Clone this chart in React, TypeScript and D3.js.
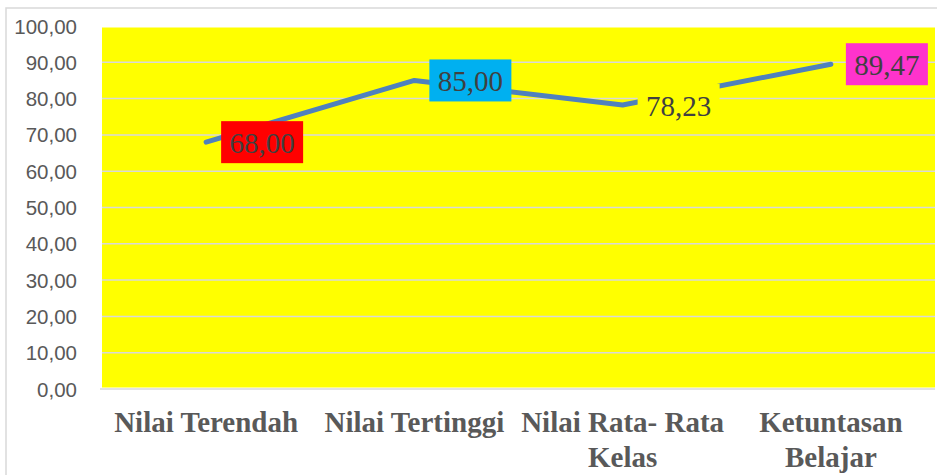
import React from "react";
import * as d3 from "d3";

const categories: string[] = [
  "Nilai Terendah",
  "Nilai Tertinggi",
  "Nilai Rata- Rata Kelas",
  "Ketuntasan Belajar",
];
const values: number[] = [68.0, 85.0, 78.23, 89.47];
const labelFills: string[] = ["#ff0000", "#00b0f0", "#ffff00", "#ff33cc"];
const yTicks: number[] = [0, 10, 20, 30, 40, 50, 60, 70, 80, 90, 100];

const W = 937;
const H = 475;
const plotLeft = 102;
const plotRight = 935;
const yTop = 26;
const yBottom = 389;

const fmt = (v: number) => d3.format(".2f")(v).replace(".", ",");

function wrap(text: string, maxWidth: number, font: string): string[] {
  const canvas = document.createElement("canvas");
  const ctx = canvas.getContext("2d");
  if (!ctx) return [text];
  ctx.font = font;
  const words = text.split(" ");
  const lines: string[] = [];
  let cur = "";
  for (const w of words) {
    const test = cur ? cur + " " + w : w;
    if (ctx.measureText(test).width > maxWidth && cur) {
      lines.push(cur);
      cur = w;
    } else {
      cur = test;
    }
  }
  if (cur) lines.push(cur);
  return lines;
}

export default function App() {
  const x = d3.scaleBand<string>().domain(categories).range([plotLeft, plotRight]).padding(0);
  const y = d3.scaleLinear().domain([0, 100]).range([yBottom, yTop]);
  const cx = (c: string) => (x(c) ?? 0) + x.bandwidth() / 2;

  const line = d3
    .line<number>()
    .x((_, i) => cx(categories[i]))
    .y((d) => y(d));

  const catFont = "bold 29px 'Liberation Serif', 'Times New Roman', serif";

  return (
    <svg
      width={W}
      height={H}
      style={{ position: "absolute", left: 0, top: 0, background: "#ffffff" }}
    >
      <rect x={6} y={8} width={W + 10} height={H + 10} fill="#ffffff" stroke="#d9d9d9" strokeWidth={1.5} />
      <rect x={plotLeft} y={y(100) + 1.5} width={plotRight - plotLeft} height={y(0) - y(100) - 3} fill="#ffff00" />
      {yTicks.slice(1, -1).map((t) => (
        <line key={t} x1={plotLeft} x2={plotRight} y1={y(t)} y2={y(t)} stroke="#d9d9d9" strokeWidth={1.5} />
      ))}
      <line x1={plotLeft - 2} x2={plotRight} y1={y(0)} y2={y(0)} stroke="#d9d9d9" strokeWidth={1.5} />
      {yTicks.map((t) => (
        <text
          key={t}
          x={77}
          y={y(t)}
          textAnchor="end"
          dominantBaseline="central"
          fontFamily="'Liberation Sans', Arial, sans-serif"
          fontSize={20.5}
          fill="#595959"
        >
          {fmt(t)}
        </text>
      ))}
      <path
        d={line(values) ?? ""}
        fill="none"
        stroke="#4f81bd"
        strokeWidth={5}
        strokeLinecap="round"
        strokeLinejoin="round"
      />
      {values.map((v, i) => {
        const px = cx(categories[i]);
        const py = y(v);
        const bw = 82;
        const bh = 42;
        const bx = px + 15;
        return (
          <g key={i}>
            <rect x={bx} y={py - bh / 2} width={bw} height={bh} fill={labelFills[i]} />
            <text
              x={bx + bw / 2}
              y={py + 1}
              textAnchor="middle"
              dominantBaseline="central"
              fontFamily="'Liberation Serif', 'Times New Roman', serif"
              fontSize={29}
              fill="#404040"
            >
              {fmt(v)}
            </text>
          </g>
        );
      })}
      {categories.map((c) => {
        const lines = wrap(c, x.bandwidth() - 2, catFont);
        return (
          <text
            key={c}
            x={cx(c)}
            y={432}
            textAnchor="middle"
            fontFamily="'Liberation Serif', 'Times New Roman', serif"
            fontWeight="bold"
            fontSize={29}
            fill="#595959"
          >
            {lines.map((l, j) => (
              <tspan key={j} x={cx(c)} y={432 + j * 35}>
                {l}
              </tspan>
            ))}
          </text>
        );
      })}
    </svg>
  );
}
